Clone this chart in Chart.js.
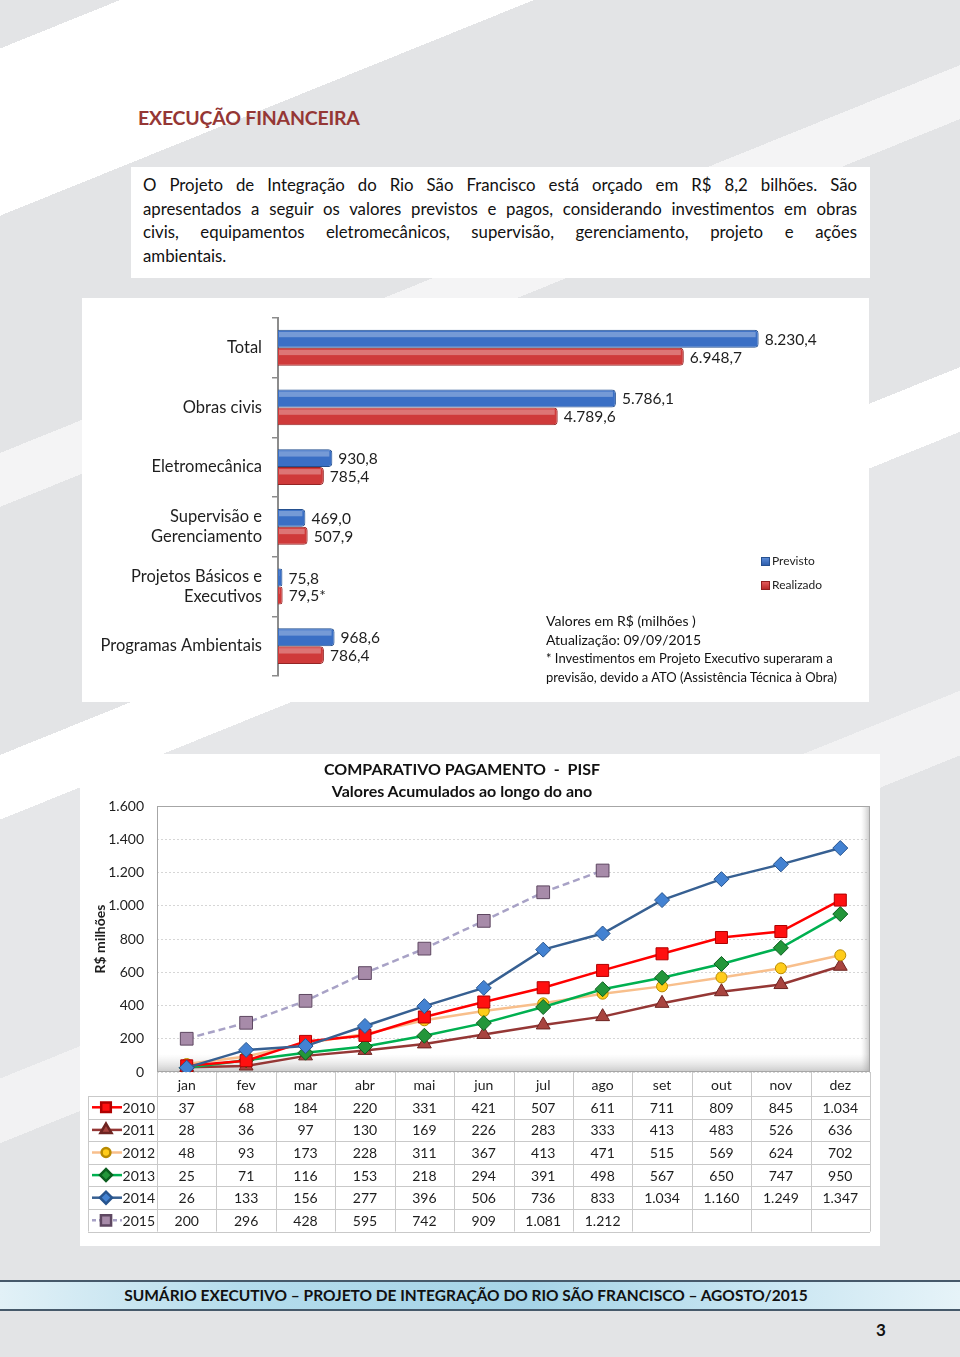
<!DOCTYPE html>
<html lang="pt-BR">
<head>
<meta charset="utf-8">
<title>Execução Financeira – PISF</title>
<script src="https://cdn.jsdelivr.net/npm/chart.js@4.4.1/dist/chart.umd.min.js"></script>
<style>
  html, body { margin: 0; padding: 0; }
  body {
    width: 960px; height: 1357px; position: relative; overflow: hidden;
    font-family: Lato, "Open Sans", sans-serif; color: #1a1a1a;
    background: linear-gradient(158deg,
      #e3e4e6 0px, #e3e4e6 45px, #ffffff 45px, #ffffff 200px,
      #e3e4e6 200px, #e3e4e6 420px, #f4f4f5 420px, #f4f4f5 470px,
      #e3e4e6 470px, #e3e4e6 700px, #ffffff 700px, #ffffff 760px,
      #e6e7e9 760px, #e6e7e9 1000px, #f2f2f3 1000px, #f2f2f3 1060px,
      #e3e4e6 1060px, #e3e4e6 100%);
  }
  .abs { position: absolute; }
  #titulo { left: 138px; top: 106px; font-size: 19.5px; font-weight: 700; color: #953735; letter-spacing: -0.2px; }
  #texto { left: 131px; top: 167px; width: 739px; height: 111px; background: #fff; box-sizing: border-box;
    padding: 6px 13px 0 12px; font-size: 16.8px; line-height: 23.6px; color: #111; }
  #texto .j { display: block; text-align: justify; text-align-last: justify; white-space: nowrap; }
  #painel1 { left: 82px; top: 298px; width: 787px; height: 404px; background: #fff; }
  #painel2 { left: 80px; top: 754px; width: 800px; height: 492px; background: #fff; }
  #barras { left: 82px; top: 298px; }
  #linhas { left: 80px; top: 754px; }
  .leg { font-size: 12px; color: #222; }
  .leg i { display: inline-block; width: 7px; height: 7px; margin-right: 2px; vertical-align: -1px; }
  #notas { left: 546px; top: 612px; font-size: 14px; line-height: 18.5px; color: #111; }
  #notas .p { font-size: 13px; }
  #tit2 { left: 262px; top: 758px; width: 400px; text-align: center; font-size: 16px; font-weight: 700; line-height: 22px; color: #111; }
  #rodape { left: 0; top: 1280px; width: 960px; height: 31px; box-sizing: border-box;
    border-top: 2px solid #46596a; border-bottom: 2px solid #46596a;
    background: linear-gradient(90deg, #e2f1f7 0%, #b4dcec 25%, #a6d4e7 55%, #c9e6f2 80%, #e6f3f8 100%);
    font-size: 15.5px; font-weight: 700; line-height: 27px; text-align: center; color: #111; padding-right: 28px; }
  #pagina { left: 876px; top: 1319px; font-size: 17px; font-weight: 700; color: #111; }
</style>
</head>
<body>
<div id="titulo" class="abs">EXECUÇÃO FINANCEIRA</div>
<div id="texto" class="abs">
  <span class="j">O Projeto de Integração do Rio São Francisco está orçado em R$ 8,2 bilhões. São</span>
  <span class="j">apresentados a seguir os valores previstos e pagos, considerando investimentos em obras</span>
  <span class="j">civis, equipamentos eletromecânicos, supervisão, gerenciamento, projeto e ações</span>
  <span>ambientais.</span>
</div>

<div id="painel1" class="abs"></div>
<canvas id="barras" class="abs" width="787" height="404"></canvas>
<div class="abs leg" style="left:761px; top:553px;"><i style="background:linear-gradient(#5a8ad6,#2f5fae);border:1px solid #26508f;"></i>Previsto</div>
<div class="abs leg" style="left:761px; top:577px;"><i style="background:linear-gradient(#e25a5a,#b82a2a);border:1px solid #8f2020;"></i>Realizado</div>
<div id="notas" class="abs">
  Valores em R$ (milhões )<br>
  Atualização: 09/09/2015<br>
  <span class="p">* Investimentos em Projeto Executivo superaram a</span><br>
  <span class="p">previsão, devido a ATO (Assistência Técnica à Obra)</span>
</div>

<div id="painel2" class="abs"></div>
<canvas id="linhas" class="abs" width="800" height="492"></canvas>
<div id="tit2" class="abs">COMPARATIVO PAGAMENTO&nbsp; -&nbsp; PISF<br>Valores Acumulados ao longo do ano</div>

<div id="rodape" class="abs">SUMÁRIO EXECUTIVO – PROJETO DE INTEGRAÇÃO DO RIO SÃO FRANCISCO – AGOSTO/2015</div>
<div id="pagina" class="abs">3</div>

<script>
// Gráfico 1: previsto x realizado (R$ milhões)
const categorias = ['Total', 'Obras civis', 'Eletromecânica', ['Supervisão e', 'Gerenciamento'], ['Projetos Básicos e', 'Executivos'], 'Programas Ambientais'];
const previsto = [8230.4, 5786.1, 930.8, 469.0, 75.8, 968.6];
const realizado = [6948.7, 4789.6, 785.4, 507.9, 79.5, 786.4];
const marcaRealizado = ['', '', '', '', '*', ''];

// Gráfico 2: pagamentos acumulados por mês
const meses = ['jan', 'fev', 'mar', 'abr', 'mai', 'jun', 'jul', 'ago', 'set', 'out', 'nov', 'dez'];
const anos = ['2010', '2011', '2012', '2013', '2014', '2015'];
const v2010 = [37, 68, 184, 220, 331, 421, 507, 611, 711, 809, 845, 1034];
const v2011 = [28, 36, 97, 130, 169, 226, 283, 333, 413, 483, 526, 636];
const v2012 = [48, 93, 173, 228, 311, 367, 413, 471, 515, 569, 624, 702];
const v2013 = [25, 71, 116, 153, 218, 294, 391, 498, 567, 650, 747, 950];
const v2014 = [26, 133, 156, 277, 396, 506, 736, 833, 1034, 1160, 1249, 1347];
const v2015 = [200, 296, 428, 595, 742, 909, 1081, 1212, null, null, null, null];
const yMin = 0, yMax = 1600, yPasso = 200;

Chart.defaults.font.family = 'Lato, "Open Sans", sans-serif';
Chart.defaults.color = '#1e1e1e';

// numero no formato brasileiro: 8.230,4
function fmtBR(v, dec) {
  const partes = v.toFixed(dec).split('.');
  partes[0] = partes[0].replace(/\B(?=(\d{3})+(?!\d))/g, '.');
  return partes.join(',');
}

// rotulos de valor ao lado das barras
const rotulosBarras = {
  id: 'rotulosBarras',
  afterDatasetsDraw(chart) {
    const ctx = chart.ctx;
    ctx.save();
    ctx.font = '15.5px Lato, sans-serif';
    ctx.textBaseline = 'middle';
    chart.data.datasets.forEach((ds, i) => {
      chart.getDatasetMeta(i).data.forEach((bar, j) => {
        // brilho na parte de cima da barra
        ctx.fillStyle = 'rgba(255,255,255,0.3)';
        ctx.fillRect(bar.base + 1, bar.y - bar.height / 2 + 2, Math.max(0, bar.x - bar.base - 4), bar.height * 0.3);
        ctx.fillStyle = '#1e1e1e';
        const txt = fmtBR(ds.data[j], 1) + (i === 1 ? marcaRealizado[j] : '');
        ctx.fillText(txt, bar.x + 6, bar.y + 1);
      });
    });
    ctx.restore();
  }
};

new Chart(document.getElementById('barras'), {
  type: 'bar',
  data: {
    labels: categorias,
    datasets: [
      { label: 'Previsto', data: previsto, backgroundColor: '#3a6fc5', borderColor: '#24508f', borderWidth: 1,
        borderRadius: 4, borderSkipped: 'start', categoryPercentage: 0.6, barPercentage: 1 },
      { label: 'Realizado', data: realizado, backgroundColor: '#cf3a3a', borderColor: '#942525', borderWidth: 1,
        borderRadius: 4, borderSkipped: 'start', categoryPercentage: 0.6, barPercentage: 1 }
    ]
  },
  options: {
    indexAxis: 'y',
    responsive: false,
    animation: false,
    layout: { padding: { top: 16, bottom: 26, right: 7, left: 0 } },
    plugins: { legend: { display: false }, tooltip: { enabled: false } },
    scales: {
      x: { display: false, min: 0, max: 10000 },
      y: {
        afterFit(s) { s.width = 196; },
        grid: { drawOnChartArea: false, tickLength: 6, color: '#8c8c8c', lineWidth: 1.5 },
        border: { color: '#8c8c8c', width: 2 },
        ticks: { font: { size: 16.5 }, color: '#1e1e1e', padding: 10 }
      }
    }
  },
  plugins: [rotulosBarras]
});

// estilos das series (cores e marcadores)
const estilos = [
  { linha: '#ff0000', fundo: '#ff1010', borda: '#b00000', ponto: 'rect', raio: 8.5, ordem: 1 },
  { linha: '#953735', fundo: '#a8443f', borda: '#6e2421', ponto: 'triangle', raio: 8, ordem: 4 },
  { linha: '#f8bf8c', fundo: '#ffcc1a', borda: '#b88a00', ponto: 'circle', raio: 5.5, ordem: 3 },
  { linha: '#00b050', fundo: '#23963a', borda: '#0b5e1e', ponto: 'rectRot', raio: 7.5, ordem: 2 },
  { linha: '#376092', fundo: '#4382d2', borda: '#27548e', ponto: 'rectRot', raio: 7.5, ordem: 0 },
  { linha: '#a8a2c6', fundo: '#a78ba9', borda: '#5e4761', ponto: 'rect', raio: 9, ordem: 5, traco: [7, 4] }
];
const valores = [v2010, v2011, v2012, v2013, v2014, v2015];

// moldura da area do grafico com "piso" sombreado
const moldura = {
  id: 'moldura',
  beforeDatasetsDraw(chart) {
    const { ctx, chartArea: a } = chart;
    ctx.save();
    const g = ctx.createLinearGradient(0, a.bottom - 18, 0, a.bottom);
    g.addColorStop(0, 'rgba(210,210,210,0)');
    g.addColorStop(1, 'rgba(165,165,165,0.6)');
    ctx.fillStyle = g;
    ctx.fillRect(a.left, a.bottom - 18, a.width, 18);
    const s = ctx.createLinearGradient(a.right - 9, 0, a.right, 0);
    s.addColorStop(0, 'rgba(190,190,190,0)');
    s.addColorStop(1, 'rgba(150,150,150,0.55)');
    ctx.fillStyle = s;
    ctx.fillRect(a.right - 9, a.top, 9, a.height);
    ctx.strokeStyle = '#a6a6a6';
    ctx.lineWidth = 1;
    ctx.strokeRect(a.left + 0.5, a.top + 0.5, a.width - 1, a.height - 1);
    ctx.restore();
  }
};

// tabela de dados abaixo do eixo x
const tabela = {
  id: 'tabela',
  afterDraw(chart) {
    const { ctx, chartArea: a, scales: { x } } = chart;
    const esq = 8;
    const topo = a.bottom;
    const cab = 24;
    const alt = 22.6;
    const col = x.getPixelForValue(1) - x.getPixelForValue(0);
    const fim = topo + cab + alt * anos.length;
    ctx.save();
    ctx.strokeStyle = '#c9c9c9';
    ctx.lineWidth = 1;
    ctx.beginPath();
    for (let i = 0; i <= meses.length; i++) {
      const px = Math.round(x.getPixelForValue(0) - col / 2 + i * col) + 0.5;
      ctx.moveTo(px, topo);
      ctx.lineTo(px, fim);
    }
    ctx.moveTo(esq + 0.5, topo + cab);
    ctx.lineTo(esq + 0.5, fim);
    for (let r = 0; r <= anos.length; r++) {
      const py = Math.round(topo + cab + r * alt) + 0.5;
      ctx.moveTo(esq, py);
      ctx.lineTo(a.right, py);
    }
    ctx.stroke();

    ctx.font = '14px Lato, sans-serif';
    ctx.fillStyle = '#1e1e1e';
    ctx.textBaseline = 'middle';
    anos.forEach((ano, r) => {
      const cy = topo + cab + r * alt + alt / 2;
      const e = estilos[r];
      // chave da legenda
      ctx.save();
      ctx.strokeStyle = e.linha;
      ctx.lineWidth = 2.5;
      ctx.setLineDash(e.traco ? [4, 3] : []);
      ctx.beginPath();
      ctx.moveTo(esq + 4, cy);
      ctx.lineTo(esq + 34, cy);
      ctx.stroke();
      ctx.setLineDash([]);
      ctx.fillStyle = e.fundo;
      ctx.strokeStyle = e.borda;
      Chart.helpers.drawPoint(ctx, { pointStyle: e.ponto, radius: e.raio * 0.8, rotation: 0, borderWidth: 1 }, esq + 18, cy);
      ctx.restore();
      ctx.textAlign = 'right';
      ctx.fillText(ano, a.left - 2, cy + 1);
      ctx.textAlign = 'center';
      valores[r].forEach((v, j) => {
        if (v === null) return;
        ctx.fillText(fmtBR(v, 0), x.getPixelForValue(j), cy + 1);
      });
    });
    ctx.restore();
  }
};

new Chart(document.getElementById('linhas'), {
  type: 'line',
  data: {
    labels: meses,
    datasets: anos.map((ano, i) => ({
      label: ano,
      data: valores[i],
      borderColor: estilos[i].linha,
      backgroundColor: estilos[i].fundo,
      pointBackgroundColor: estilos[i].fundo,
      pointBorderColor: estilos[i].borda,
      pointBorderWidth: 1,
      pointStyle: estilos[i].ponto,
      pointRadius: estilos[i].raio,
      borderWidth: 2.5,
      borderDash: estilos[i].traco || [],
      order: estilos[i].ordem,
      tension: 0
    }))
  },
  options: {
    responsive: false,
    animation: false,
    layout: { padding: { top: 52, right: 10, bottom: 15, left: 0 } },
    plugins: { legend: { display: false }, tooltip: { enabled: false } },
    scales: {
      x: {
        offset: true,
        afterFit(s) { s.height = 159; },
        grid: { display: false, drawTicks: false },
        border: { display: false },
        ticks: { font: { size: 14 }, color: '#1e1e1e', padding: 5, maxRotation: 0, autoSkip: false }
      },
      y: {
        min: yMin, max: yMax,
        afterFit(s) { s.width = 77; },
        grid: { color: '#d6d6d6', drawTicks: false },
        border: { display: false, dash: [2, 2] },
        ticks: { stepSize: yPasso, padding: 13, font: { size: 14 }, color: '#1e1e1e', callback: v => fmtBR(v, 0) },
        title: { display: true, text: 'R$ milhões', font: { size: 14, weight: 'bold' }, color: '#1e1e1e', padding: { top: 12, bottom: 0 } }
      }
    }
  },
  plugins: [moldura, tabela]
});
</script>
</body>
</html>
